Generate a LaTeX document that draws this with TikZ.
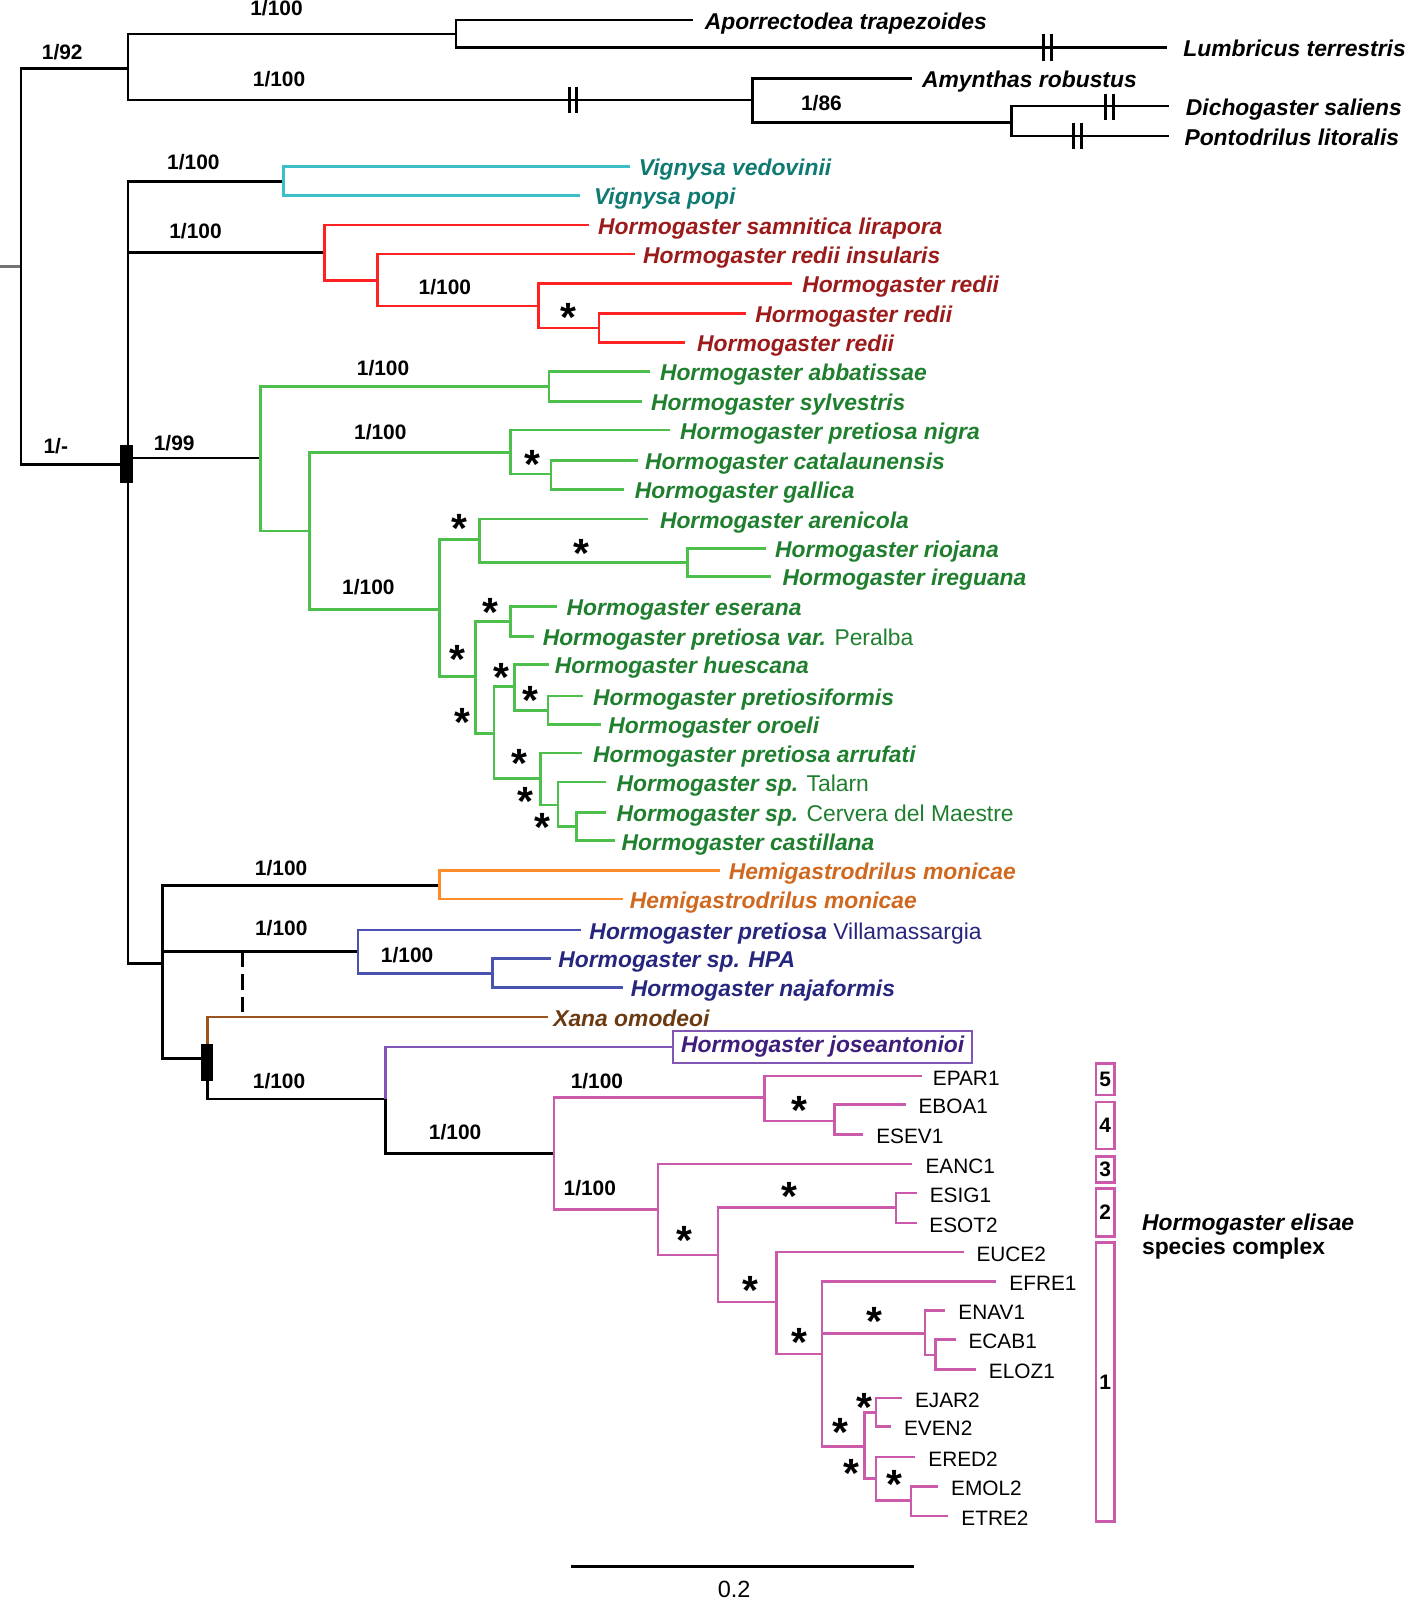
\documentclass[tikz,border=0pt]{standalone}
\usepackage{fontspec}
\setmainfont{Liberation Sans}
\definecolor{cyanl}{HTML}{3CC0C8}
\definecolor{cyant}{HTML}{0E7A72}
\definecolor{redl}{HTML}{FF2222}
\definecolor{redt}{HTML}{9B1B1B}
\definecolor{grnl}{HTML}{4CBF4C}
\definecolor{grnt}{HTML}{1F7F2E}
\definecolor{orgl}{HTML}{FF8C2A}
\definecolor{orgt}{HTML}{D0691F}
\definecolor{blul}{HTML}{4A52B0}
\definecolor{blut}{HTML}{26267E}
\definecolor{brnl}{HTML}{9A5420}
\definecolor{brnt}{HTML}{6B3A10}
\definecolor{purl}{HTML}{8055B5}
\definecolor{purt}{HTML}{3E1E7A}
\definecolor{pnkl}{HTML}{CC5AAA}
\newcommand\tipn[6]{\coordinate (#1) at (#2,#3); \node[#5,anchor=base west] (#1t) at (#4,#3+9) {#6};}
\newcommand\ed[3]{\draw[#1] (#2) |- (#3);}
\begin{document}
\begin{tikzpicture}[x=1pt,y=-1pt,
  br/.style={line width=2.6pt},
  eK/.style={br,black}, eC/.style={br,cyanl}, eR/.style={br,redl}, eG/.style={br,grnl},
  eO/.style={br,orgl}, eB/.style={br,blul}, eW/.style={br,brnl}, eP/.style={br,purl}, eM/.style={br,pnkl},
  sp/.style={font=\fontsize{22.4}{26}\selectfont\bfseries\itshape, inner sep=0pt},
  spu/.style={font=\fontsize{22.4}{26}\selectfont\bfseries, inner sep=0pt},
  spc/.style={sp,text=cyant}, spr/.style={sp,text=redt}, spg/.style={sp,text=grnt},
  spo/.style={sp,text=orgt}, spb/.style={sp,text=blut}, spw/.style={sp,text=brnt},
  lab/.style={font=\fontsize{20.5}{24}\selectfont\bfseries, inner sep=0pt},
  cd/.style={font=\fontsize{20.4}{24}\selectfont, inner sep=0pt},
  ast/.style={font=\fontsize{40}{40}\selectfont\bfseries, inner sep=0pt, anchor=base},
  brkbar/.style={line width=3pt, black},
  bx/.style={draw=pnkl, line width=2.5pt, minimum width=18pt, inner sep=0pt, font=\fontsize{20.5}{24}\selectfont\bfseries}]
\useasboundingbox (0,0) rectangle (1379,1568);

% ---------- internal nodes ----------
\coordinate (stub) at (0,261);
\coordinate (root) at (20.5,261);
\coordinate (og) at (125.6,67);
\coordinate (ing) at (125.6,455);
\coordinate (o1) at (447,33.3);
\coordinate (o2) at (737.7,98);
\coordinate (o3) at (991,120);
\coordinate (vg) at (278,178);
\coordinate (rd) at (318,247.6);
\coordinate (r2) at (370,275);
\coordinate (r3) at (528,300);
\coordinate (r4) at (587,321.6);
\coordinate (gn) at (255,449);
\coordinate (g1) at (538,379);
\coordinate (g2) at (303,520.5);
\coordinate (g3) at (500,443.6);
\coordinate (g4) at (540,464.6);
\coordinate (g5) at (431,597);
\coordinate (g6) at (470,529);
\coordinate (g7) at (466,663);
\coordinate (g8) at (674,551);
\coordinate (g9) at (500,609);
\coordinate (g10) at (484,718.6);
\coordinate (g11) at (504,673);
\coordinate (g12) at (530,763);
\coordinate (g13) at (537,696);
\coordinate (g14) at (547,789);
\coordinate (g15) at (565,810);
\coordinate (lw) at (159.5,944);
\coordinate (hm) at (431,867.5);
\coordinate (bl) at (351,932.7);
\coordinate (b1) at (482.5,954);
\coordinate (rc) at (203.5,1037);
\coordinate (jn) at (377.6,1077);
\coordinate (p0) at (542.8,1130.7);
\coordinate (p1) at (749,1075.8);
\coordinate (p2) at (645,1185);
\coordinate (p3) at (817.5,1098.7);
\coordinate (p4) at (703.7,1230);
\coordinate (p5) at (878,1183.4);
\coordinate (p6) at (761,1276);
\coordinate (p7) at (805.6,1327);
\coordinate (p8) at (906.6,1306.6);
\coordinate (p9) at (847.2,1417.8);
\coordinate (p10) at (916.6,1327.8);
\coordinate (p11) at (858.6,1384);
\coordinate (p12) at (858.6,1449);
\coordinate (p13) at (892.6,1470.7);

% ---------- tips ----------
\tipn{apo}{679.5}{19.6}{690.5}{sp}{Aporrectodea trapezoides}
\tipn{lum}{1143.4}{46.7}{1159.6}{sp}{Lumbricus terrestris}
\tipn{amy}{894}{77}{903.5}{sp}{Amynthas robustus}
\tipn{dic}{1146}{104}{1162}{sp}{Dichogaster saliens}
\tipn{pon}{1146}{133.3}{1160.6}{sp}{Pontodrilus litoralis}
\tipn{ved}{617}{163}{626}{spc}{Vignysa vedovinii}
\tipn{pop}{568}{191.5}{582}{spc}{Vignysa popi}
\tipn{sam}{577.6}{220.5}{586}{spr}{Hormogaster samnitica lirapora}
\tipn{ins}{622}{249}{630}{spr}{Hormogaster redii insularis}
\tipn{rda}{776}{278}{786}{spr}{Hormogaster redii}
\tipn{rdb}{731}{307}{740}{spr}{Hormogaster redii}
\tipn{rdc}{671}{335.5}{683}{spr}{Hormogaster redii}
\tipn{abb}{636.7}{364}{646.6}{spg}{Hormogaster abbatissae}
\tipn{syl}{628.9}{393.7}{638}{spg}{Hormogaster sylvestris}
\tipn{nig}{656.4}{421.5}{666.3}{spg}{Hormogaster pretiosa nigra}
\tipn{cat}{625.6}{451}{632}{spg}{Hormogaster catalaunensis}
\tipn{gal}{612}{480}{622}{spg}{Hormogaster gallica}
\tipn{are}{635.5}{508.7}{646.6}{spg}{Hormogaster arenicola}
\tipn{rio}{750.3}{537.4}{759.5}{spg}{Hormogaster riojana}
\tipn{ire}{756}{565}{766.7}{spg}{Hormogaster ireguana}
\tipn{ese}{546}{594.6}{555}{spg}{Hormogaster eserana}
\tipn{per}{523}{623.5}{531.7}{spg}{Hormogaster pretiosa var. {\mdseries\upshape Peralba}}
\tipn{hue}{538}{651}{543.5}{spg}{Hormogaster huescana}
\tipn{prf}{571}{682}{581}{spg}{Hormogaster pretiosiformis}
\tipn{oro}{589}{710}{596}{spg}{Hormogaster oroeli}
\tipn{arr}{570}{738}{581}{spg}{Hormogaster pretiosa arrufati}
\tipn{tal}{594}{766.5}{604}{spg}{Hormogaster sp. {\mdseries\upshape Talarn}}
\tipn{cer}{594}{796}{604}{spg}{Hormogaster sp. {\mdseries\upshape Cervera del Maestre}}
\tipn{cas}{602.6}{824}{609}{spg}{Hormogaster castillana}
\tipn{hma}{705.7}{853}{714}{spo}{Hemigastrodrilus monicae}
\tipn{hmb}{610.5}{881}{617}{spo}{Hemigastrodrilus monicae}
\tipn{vil}{569}{911.5}{577.5}{spb}{Hormogaster pretiosa {\mdseries\upshape Villamassargia}}
\tipn{hpa}{539.6}{939}{547}{spb}{Hormogaster sp. HPA}
\tipn{naj}{610.5}{968}{618}{spb}{Hormogaster najaformis}
\tipn{xan}{537}{996.5}{542}{spw}{Xana omodeoi}
\node[sp, text=purt, draw=purl, line width=2.5pt, minimum width=293pt, minimum height=31.6pt, anchor=west] (jos) at (658.5,1026) {Hormogaster joseantonioi};
\tipn{epar}{903.6}{1054.4}{914}{cd}{EPAR1}
\tipn{eboa}{888}{1082.6}{900}{cd}{EBOA1}
\tipn{esev}{846}{1112}{858.6}{cd}{ESEV1}
\tipn{eanc}{894}{1140.6}{906.8}{cd}{EANC1}
\tipn{esig}{899}{1169}{911}{cd}{ESIG1}
\tipn{esot}{898.3}{1198.4}{910.6}{cd}{ESOT2}
\tipn{euce}{945}{1227}{956.8}{cd}{EUCE2}
\tipn{efre}{975.9}{1255.8}{989}{cd}{EFRE1}
\tipn{enav}{926}{1284}{939}{cd}{ENAV1}
\tipn{ecab}{936.8}{1313}{949}{cd}{ECAB1}
\tipn{eloz}{956}{1342}{969}{cd}{ELOZ1}
\tipn{ejar}{884}{1370}{896.5}{cd}{EJAR2}
\tipn{even}{873}{1398}{885.8}{cd}{EVEN2}
\tipn{ered}{896.5}{1428}{909.6}{cd}{ERED2}
\tipn{emol}{919.5}{1456.6}{932}{cd}{EMOL2}
\tipn{etre}{929}{1485.6}{942}{cd}{ETRE2}

% ---------- edges ----------
\draw[br, black!55] (stub) -- (root);
\ed{eK}{root}{og} \ed{eK}{root}{ing}
\ed{eK}{og}{o1} \ed{eK}{og}{o2}
\ed{eK}{o1}{apo} \ed{eK}{o1}{lum}
\ed{eK}{o2}{amy} \ed{eK}{o2}{o3}
\ed{eK}{o3}{dic} \ed{eK}{o3}{pon}
\ed{eK}{ing}{vg} \ed{eK}{ing}{rd} \ed{eK}{ing}{gn} \ed{eK}{ing}{lw}
\ed{eC}{vg}{ved} \ed{eC}{vg}{pop}
\ed{eR}{rd}{sam} \ed{eR}{rd}{r2}
\ed{eR}{r2}{ins} \ed{eR}{r2}{r3}
\ed{eR}{r3}{rda} \ed{eR}{r3}{r4}
\ed{eR}{r4}{rdb} \ed{eR}{r4}{rdc}
\ed{eG}{gn}{g1} \ed{eG}{gn}{g2}
\ed{eG}{g1}{abb} \ed{eG}{g1}{syl}
\ed{eG}{g2}{g3} \ed{eG}{g2}{g5}
\ed{eG}{g3}{nig} \ed{eG}{g3}{g4}
\ed{eG}{g4}{cat} \ed{eG}{g4}{gal}
\ed{eG}{g5}{g6} \ed{eG}{g5}{g7}
\ed{eG}{g6}{are} \ed{eG}{g6}{g8}
\ed{eG}{g8}{rio} \ed{eG}{g8}{ire}
\ed{eG}{g7}{g9} \ed{eG}{g7}{g10}
\ed{eG}{g9}{ese} \ed{eG}{g9}{per}
\ed{eG}{g10}{g11} \ed{eG}{g10}{g12}
\ed{eG}{g11}{hue} \ed{eG}{g11}{g13}
\ed{eG}{g13}{prf} \ed{eG}{g13}{oro}
\ed{eG}{g12}{arr} \ed{eG}{g12}{g14}
\ed{eG}{g14}{tal} \ed{eG}{g14}{g15}
\ed{eG}{g15}{cer} \ed{eG}{g15}{cas}
\ed{eK}{lw}{hm} \ed{eK}{lw}{bl} \ed{eK}{lw}{rc}
\ed{eO}{hm}{hma} \ed{eO}{hm}{hmb}
\ed{eB}{bl}{vil} \ed{eB}{bl}{b1}
\ed{eB}{b1}{hpa} \ed{eB}{b1}{naj}
\ed{eW}{rc}{xan} \ed{eK}{rc}{jn}
\ed{eP}{jn}{jos.west} \ed{eK}{jn}{p0}
\ed{eM}{p0}{p1} \ed{eM}{p0}{p2}
\ed{eM}{p1}{epar} \ed{eM}{p1}{p3}
\ed{eM}{p3}{eboa} \ed{eM}{p3}{esev}
\ed{eM}{p2}{eanc} \ed{eM}{p2}{p4}
\ed{eM}{p4}{p5} \ed{eM}{p4}{p6}
\ed{eM}{p5}{esig} \ed{eM}{p5}{esot}
\ed{eM}{p6}{euce} \ed{eM}{p6}{p7}
\ed{eM}{p7}{efre} \ed{eM}{p7}{p8} \ed{eM}{p7}{p9}
\ed{eM}{p8}{enav} \ed{eM}{p8}{p10}
\ed{eM}{p10}{ecab} \ed{eM}{p10}{eloz}
\ed{eM}{p9}{p11} \ed{eM}{p9}{p12}
\ed{eM}{p11}{ejar} \ed{eM}{p11}{even}
\ed{eM}{p12}{ered} \ed{eM}{p12}{p13}
\ed{eM}{p13}{emol} \ed{eM}{p13}{etre}

% dashed link
\coordinate (d1) at (237.6,932.7);
\coordinate (d2) at (237.6,996.5);
\draw[br, black, dash pattern=on 15pt off 7pt] (d1) -- (d2);

% black bars
\node[fill=black, minimum width=12pt, minimum height=37pt, inner sep=0pt] (bar1) at (124,454.5) {};
\node[fill=black, minimum width=11.6pt, minimum height=35.5pt, inner sep=0pt] (bar2) at (202.8,1041.3) {};

% break marks
\foreach \bx/\by in {1022.7/46.7, 557.8/98, 1083.5/105, 1052/133.3}{
  \draw[brkbar] (\bx,\by-13) -- (\bx,\by+13);
  \draw[brkbar] (\bx+7.5,\by-13) -- (\bx+7.5,\by+13);
}

% support labels
\node[lab] (l1) at (271,8) {1/100};
\node[lab] (l2) at (61,50.6) {1/92};
\node[lab] (l3) at (273.5,77.8) {1/100};
\node[lab] (l4) at (805,101) {1/86};
\node[lab] (l5) at (189.5,158.5) {1/100};
\node[lab] (l6) at (191.6,226.4) {1/100};
\node[lab] (l7) at (436,281) {1/100};
\node[lab] (l8) at (375.4,361) {1/100};
\node[lab] (l9) at (372.7,423) {1/100};
\node[lab] (l10) at (54.7,437) {1/-};
\node[lab] (l11) at (170.7,434) {1/99};
\node[lab] (l12) at (361,575) {1/100};
\node[lab] (l13) at (275.5,851) {1/100};
\node[lab] (l14) at (275.6,909.7) {1/100};
\node[lab] (l15) at (399,936) {1/100};
\node[lab] (l16) at (273.5,1059.5) {1/100};
\node[lab] (l17) at (446,1109) {1/100};
\node[lab] (l18) at (585,1059.6) {1/100};
\node[lab] (l19) at (578,1164) {1/100};

% asterisks
\foreach \sx/\sy [count=\i] in {557/305, 521.6/449, 450/512, 570/536, 480.5/594, 448/640, 491/658, 520/680, 453/702, 508.6/742, 515/779, 531.7/805, 783.7/1082, 773.5/1166, 671/1209.5, 735/1258.6, 783.7/1309.4, 857.4/1288.5, 847/1373, 824/1398, 834/1438, 877/1448.7}{
  \node[ast] (s\i) at (\sx,\sy+20) {*};
}

% clade boxes
\node[bx, minimum height=31pt] (bx5) at (1083,1057.5) {5};
\node[bx, minimum height=46.3pt] (bx4) at (1083,1102.9) {4};
\node[bx, minimum height=25.4pt] (bx3) at (1083,1146.3) {3};
\node[bx, minimum height=47pt] (bx2) at (1083,1188) {2};
\node[bx, minimum height=273.6pt] (bx1) at (1083,1354.2) {1};
\node[sp, anchor=base west] (cx1) at (1119,1206) {Hormogaster elisae};
\node[spu, anchor=base west] (cx2) at (1119,1229) {species complex};

% scale bar
\coordinate (sb1) at (559.6,1535);
\coordinate (sb2) at (895.4,1535);
\draw[line width=2.8pt] (sb1) -- (sb2);
\node[font=\fontsize{23}{26}\selectfont, inner sep=0pt] (sbl) at (719.5,1557.5) {0.2};
\end{tikzpicture}
\end{document}
